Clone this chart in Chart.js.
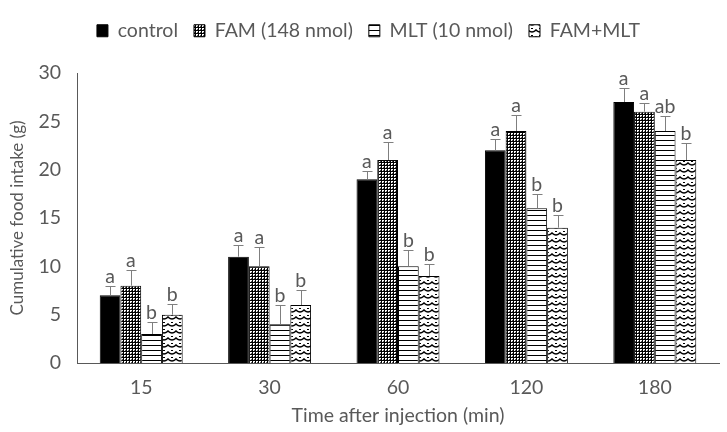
<!DOCTYPE html>
<html>
<head>
<meta charset="utf-8">
<script src="https://cdn.jsdelivr.net/npm/chart.js@4.4.1/dist/chart.umd.min.js"></script>
<style>
  body { margin: 0; background: #fff; }
</style>
</head>
<body>
<canvas id="foodChart" width="727" height="432"></canvas>
<script>
// data
const categories = ["15", "30", "60", "120", "180"];
const seriesNames = ["control", "FAM (148 nmol)", "MLT (10 nmol)", "FAM+MLT"];
const controlValues = [7, 11, 19, 22, 27];
const famValues = [8, 10, 21, 24, 26];
const mltValues = [3, 4, 10, 16, 24];
const famMltValues = [5, 6, 9, 14, 21];
const controlErrors = [1.0, 1.2, 0.9, 1.2, 1.4];
const famErrors = [1.6, 2.0, 1.9, 1.7, 0.9];
const mltErrors = [1.2, 2.0, 1.7, 1.5, 1.6];
const famMltErrors = [1.1, 1.6, 1.2, 1.3, 1.8];
const controlLetters = ["a", "a", "a", "a", "a"];
const famLetters = ["a", "a", "a", "a", "a"];
const mltLetters = ["b", "b", "b", "b", "ab"];
const famMltLetters = ["b", "b", "b", "b", "b"];
const yTicks = [0, 5, 10, 15, 20, 25, 30];

const errorSets = [controlErrors, famErrors, mltErrors, famMltErrors];
const letterSets = [controlLetters, famLetters, mltLetters, famMltLetters];

const TEXT = "#595959";
const FONT = "Lato, Carlito, Calibri, sans-serif";
Chart.defaults.font.family = FONT;
Chart.defaults.color = TEXT;

const canvas = document.getElementById("foodChart");
const ctx = canvas.getContext("2d");

// small tiles for the bar fills
function makePattern(w, h, draw) {
  const tile = document.createElement("canvas");
  tile.width = w;
  tile.height = h;
  const c = tile.getContext("2d");
  c.fillStyle = "#fff";
  c.fillRect(0, 0, w, h);
  c.fillStyle = "#000";
  c.strokeStyle = "#000";
  draw(c);
  return ctx.createPattern(tile, "repeat");
}

const famPattern = makePattern(3, 3, (c) => {
  c.fillRect(0, 0, 1, 3);
  c.fillRect(0, 0, 3, 1);
  c.fillStyle = "#555";
  c.fillRect(2, 2, 1, 1);
});
const mltPattern = makePattern(4, 5, (c) => {
  c.fillRect(0, 0, 4, 1);
});
const wavePattern = makePattern(8, 7, (c) => {
  c.lineWidth = 1.4;
  c.beginPath();
  c.moveTo(-0.5, 1.5);
  c.quadraticCurveTo(4, 6.5, 8.5, 1.5);
  c.stroke();
  c.fillRect(3, 0, 2, 1);
});

// error bars + significance letters
const errorBarPlugin = {
  id: "errorBars",
  afterDatasetsDraw(chart) {
    const c = chart.ctx;
    const yScale = chart.scales.y;
    chart.data.datasets.forEach((ds, i) => {
      const meta = chart.getDatasetMeta(i);
      meta.data.forEach((bar, j) => {
        const top = Math.round(yScale.getPixelForValue(ds.data[j] + errorSets[i][j])) + 0.5;
        const x = Math.round(bar.x) + 0.5;
        c.save();
        c.strokeStyle = "#7f7f7f";
        c.lineWidth = 1;
        c.beginPath();
        c.moveTo(x, bar.y);
        c.lineTo(x, top);
        c.moveTo(x - 5, top);
        c.lineTo(x + 5, top);
        c.stroke();
        c.fillStyle = TEXT;
        c.font = "19.5px " + FONT;
        c.textAlign = "center";
        c.textBaseline = "alphabetic";
        c.fillText(letterSets[i][j], bar.x, top - 4);
        c.restore();
      });
    });
  },
};

// make room between legend and plot, nudge it a bit right
const legendSpace = {
  id: "legendSpace",
  beforeInit(chart) {
    const fit = chart.legend.fit;
    chart.legend.fit = function () {
      fit.bind(chart.legend)();
      this.height = 68;
    };
  },
  afterLayout(chart) {
    chart.legend.left += 9;
    chart.legend.right += 9;
  },
};

const barBase = {
  borderColor: "#000",
  borderWidth: 1,
  categoryPercentage: 0.646,
  barPercentage: 1.0,
};

new Chart(ctx, {
  type: "bar",
  data: {
    labels: categories,
    datasets: [
      { ...barBase, label: seriesNames[0], data: controlValues, backgroundColor: "#000" },
      { ...barBase, label: seriesNames[1], data: famValues, backgroundColor: famPattern },
      { ...barBase, label: seriesNames[2], data: mltValues, backgroundColor: mltPattern },
      { ...barBase, label: seriesNames[3], data: famMltValues, backgroundColor: wavePattern },
    ],
  },
  options: {
    responsive: false,
    animation: false,
    layout: { padding: { top: 5, left: 0, right: 8, bottom: 0 } },
    plugins: {
      tooltip: { enabled: false },
      legend: {
        position: "top",
        labels: {
          boxWidth: 11,
          boxHeight: 12,
          padding: 16,
          color: TEXT,
          font: { size: 19.5 },
        },
      },
    },
    scales: {
      x: {
        grid: { display: false, drawTicks: false },
        border: { display: true, color: "#595959", width: 1 },
        ticks: { padding: 13, color: TEXT, font: { size: 19.5 } },
        title: {
          display: true,
          text: "Time after injection (min)",
          color: TEXT,
          font: { size: 19.5 },
          padding: { top: 4, bottom: 5 },
        },
        afterFit: (scale) => { scale.height = 69; },
      },
      y: {
        min: 0,
        max: 30,
        grid: { display: false, drawTicks: false },
        border: { display: true, color: "#595959", width: 1 },
        afterBuildTicks: (scale) => { scale.ticks = yTicks.map((v) => ({ value: v })); },
        ticks: { padding: 16, color: TEXT, font: { size: 19.5 } },
        title: {
          display: true,
          text: "Cumulative food intake (g)",
          color: TEXT,
          font: { size: 17 },
          padding: { top: 7, bottom: 4 },
        },
        afterFit: (scale) => { scale.width = 77; },
      },
    },
  },
  plugins: [errorBarPlugin, legendSpace],
});
</script>
</body>
</html>
